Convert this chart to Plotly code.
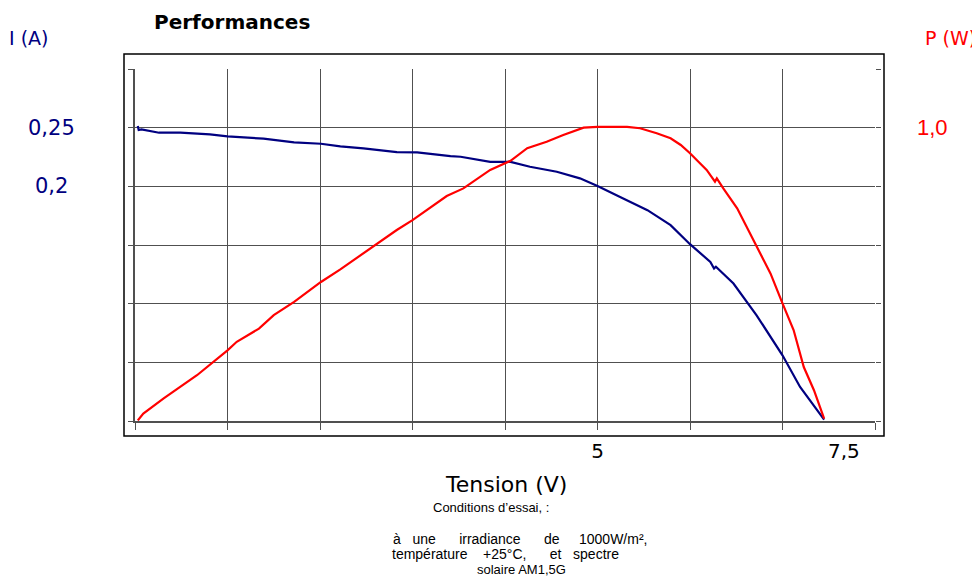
import plotly.graph_objects as go

# ---- data ----
voltage_i = [0.03, 0.04, 0.07, 0.26, 0.49, 0.81, 1.00, 1.19, 1.39, 1.72, 2.01, 2.22, 2.47, 2.83,
             3.05, 3.41, 3.52, 3.84, 4.06, 4.27, 4.56, 4.81, 5.00, 5.25, 5.54, 5.79, 6.00, 6.22,
             6.26, 6.28, 6.47, 6.72, 7.00, 7.19, 7.45]
current = [0.2515, 0.2480, 0.2485, 0.2457, 0.2457, 0.2443, 0.2426, 0.2418, 0.2406, 0.2375, 0.2363,
           0.2341, 0.2324, 0.2292, 0.2290, 0.2258, 0.2252, 0.2209, 0.2209, 0.2167, 0.2124, 0.2068,
           0.2002, 0.1906, 0.1797, 0.1669, 0.1507, 0.1356, 0.1300, 0.1315, 0.1172, 0.0901, 0.0560,
           0.0290, 0.0012]

voltage_p = [0.03, 0.06, 0.09, 0.31, 0.67, 1.00, 1.10, 1.34, 1.50, 1.72, 2.01, 2.22, 2.60, 2.83,
             3.00, 3.37, 3.55, 3.84, 4.06, 4.24, 4.45, 4.63, 4.85, 5.00, 5.32, 5.46, 5.64, 5.79,
             5.90, 6.00, 6.18, 6.27, 6.29, 6.36, 6.51, 6.72, 6.87, 7.00, 7.12, 7.23, 7.34, 7.45]
power = [0.002, 0.014, 0.025, 0.077, 0.156, 0.241, 0.270, 0.315, 0.361, 0.406, 0.474, 0.517, 0.600,
         0.651, 0.685, 0.767, 0.793, 0.856, 0.887, 0.930, 0.952, 0.975, 1.000, 1.003, 1.003, 0.998,
         0.981, 0.964, 0.941, 0.913, 0.856, 0.816, 0.827, 0.793, 0.725, 0.594, 0.503, 0.401, 0.310,
         0.184, 0.105, 0.008]

x_tickvals = [0, 1, 2, 3, 4, 5, 6, 7, 8]
x_ticktext = ["", "", "", "", "", "5", "", "", ""]
i_tickvals = [0, 0.05, 0.10, 0.15, 0.20, 0.25, 0.30]
p_tickvals = [0, 0.2, 0.4, 0.6, 0.8, 1.0, 1.2]
i_labels = [(0.25, "0,25"), (0.20, "0,2")]
p_labels = [(1.0, "1,0")]

NAVY = "#000080"
RED = "#FF0000"
GRID = "#505050"

OFF = 8  # page body margin
W, H = 972, 573
L, T = 135 - OFF, 69 - OFF
R = W - (875 - OFF)
B = H - (421 - OFF)
PW, PH = W - L - R, H - T - B


def px(x):
    return (x - OFF - L) / PW


def py(y):
    return (H - B - (y - OFF)) / PH


fig = go.Figure()
fig.add_trace(go.Scatter(x=voltage_i, y=current, mode="lines",
                         line=dict(color=NAVY, width=2.2), yaxis="y", showlegend=False))
fig.add_trace(go.Scatter(x=voltage_p, y=power, mode="lines",
                         line=dict(color=RED, width=2.2), yaxis="y2", showlegend=False))

NB = "\u00a0"
annotations = []
for v, t in i_labels:
    annotations.append(dict(x=px(51), xref="paper", y=v, yref="y", text=t, showarrow=False,
                            xanchor="center", yanchor="middle",
                            font=dict(family="DejaVu Sans", size=21, color=NAVY)))
for v, t in p_labels:
    annotations.append(dict(x=px(932), xref="paper", y=v, yref="y2", text=t, showarrow=False,
                            xanchor="center", yanchor="middle",
                            font=dict(family="Liberation Sans", size=22, color=RED)))
annotations += [
    dict(x=7.66, xref="x", y=py(451), yref="paper", text="7,5", showarrow=False,
         xanchor="center", yanchor="middle", font=dict(family="DejaVu Sans", size=20, color="black")),
    dict(x=px(28), xref="paper", y=py(38), yref="paper", text="I (A)", showarrow=False,
         xanchor="center", yanchor="middle", font=dict(family="DejaVu Sans", size=19, color=NAVY)),
    dict(x=px(950), xref="paper", y=py(38), yref="paper", text="P (W)", showarrow=False,
         xanchor="center", yanchor="middle", font=dict(family="DejaVu Sans", size=19, color=RED)),
    dict(x=px(232), xref="paper", y=py(22), yref="paper", text="<b>Performances</b>", showarrow=False,
         xanchor="center", yanchor="middle", font=dict(family="DejaVu Sans", size=20, color="black")),
    dict(x=px(506), xref="paper", y=py(484), yref="paper", text="Tension (V)", showarrow=False,
         xanchor="center", yanchor="middle", font=dict(family="DejaVu Sans", size=22, color="black")),
    dict(x=px(491), xref="paper", y=py(507), yref="paper", text="Conditions d’essai, :", showarrow=False,
         xanchor="center", yanchor="middle", font=dict(family="Liberation Sans", size=13, color="black")),
    dict(x=px(520), xref="paper", y=py(539), yref="paper",
         text="à" + NB * 2 + " une" + NB * 5 + " irradiance" + NB * 5 + " de" + NB * 4 + " 1000W/m²,",
         showarrow=False, xanchor="center", yanchor="middle",
         font=dict(family="Liberation Sans", size=14, color="black")),
    dict(x=px(390), xref="paper", y=py(554), yref="paper",
         text="température" + NB * 3 + " +25°C," + NB * 5 + " et" + NB * 2 + " spectre", showarrow=False,
         xanchor="left", yanchor="middle", font=dict(family="Liberation Sans", size=14, color="black")),
    dict(x=px(521), xref="paper", y=py(569), yref="paper", text="solaire AM1,5G", showarrow=False,
         xanchor="center", yanchor="middle", font=dict(family="Liberation Sans", size=13, color="black")),
]

fig.update_layout(
    width=W, height=H,
    margin=dict(l=L, r=R, t=T, b=B),
    paper_bgcolor="white", plot_bgcolor="white",
    xaxis=dict(range=[0, 8], tickvals=x_tickvals, ticktext=x_ticktext, ticks="outside", ticklen=7,
               tickcolor=GRID, showgrid=True, gridcolor=GRID, gridwidth=1, zeroline=False,
               showline=True, linecolor=GRID, linewidth=2, ticklabelstandoff=4,
               tickfont=dict(family="DejaVu Sans", size=20, color="black")),
    yaxis=dict(range=[0, 0.30], tickvals=i_tickvals, ticktext=[""] * len(i_tickvals), ticks="outside",
               ticklen=5, tickcolor=GRID, showgrid=True, gridcolor=GRID, gridwidth=1, zeroline=False,
               showline=True, linecolor=GRID, linewidth=1.5),
    yaxis2=dict(range=[0, 1.2], tickvals=p_tickvals, ticktext=[""] * len(p_tickvals), ticks="outside",
                ticklen=5, tickcolor=GRID, overlaying="y", side="right", showgrid=False,
                zeroline=False, showline=False),
    annotations=annotations,
    shapes=[dict(type="rect", xref="paper", yref="paper", x0=px(124), x1=px(884), y0=py(436), y1=py(54),
                 line=dict(color="black", width=1.5), fillcolor="rgba(0,0,0,0)", layer="below")],
)

fig.write_html("out.html")
